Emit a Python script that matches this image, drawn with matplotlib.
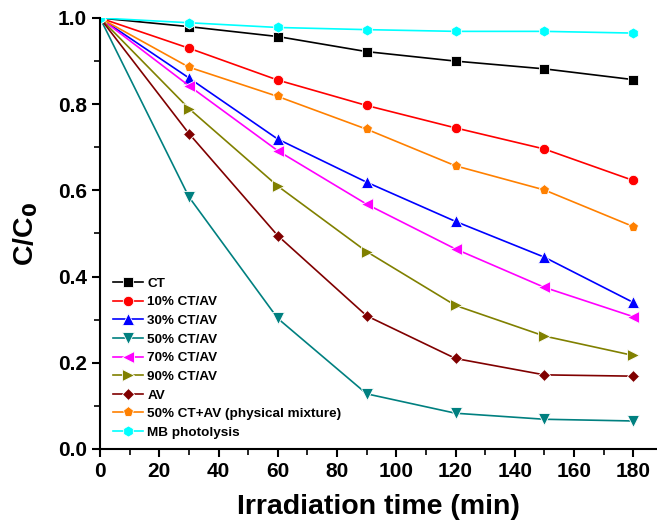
import matplotlib
matplotlib.use("Agg")
import matplotlib.pyplot as plt
from matplotlib.ticker import MultipleLocator

plt.rcParams['font.family'] = ['Liberation Sans', 'DejaVu Sans']
plt.rcParams['font.weight'] = 'bold'

time = [0, 30, 60, 90, 120, 150, 180]
labels = ["CT", "10% CT/AV", "30% CT/AV", "50% CT/AV", "70% CT/AV",
          "90% CT/AV", "AV", "50% CT+AV (physical mixture)", "MB photolysis"]
ct = [1.0, 0.980, 0.957, 0.922, 0.900, 0.882, 0.857]
ct10 = [1.0, 0.930, 0.856, 0.797, 0.745, 0.696, 0.623]
ct30 = [1.0, 0.861, 0.719, 0.619, 0.528, 0.445, 0.340]
ct50 = [1.0, 0.585, 0.303, 0.128, 0.083, 0.069, 0.065]
ct70 = [1.0, 0.843, 0.692, 0.568, 0.464, 0.375, 0.307]
ct90 = [1.0, 0.790, 0.610, 0.458, 0.333, 0.262, 0.217]
av = [1.0, 0.732, 0.495, 0.309, 0.210, 0.172, 0.169]
phys = [1.0, 0.886, 0.818, 0.742, 0.657, 0.601, 0.516]
mb = [1.0, 0.989, 0.978, 0.973, 0.969, 0.969, 0.965]

series = [ct, ct10, ct30, ct50, ct70, ct90, av, phys, mb]
colors = ['#000000', '#FF0000', '#0000FF', '#008080', '#FF00FF',
          '#808000', '#800000', '#FF8000', '#00FFFF']
markers = ['s', 'o', '^', 'v', '<', '>', 'D', 'p', 'h']
msizes = [6.5, 7.5, 8, 8, 8, 8, 6.5, 8, 8]

fig = plt.figure(figsize=(6.57, 5.29), dpi=100)
ax = fig.add_axes([100/657, 1-449/529, 557/657, 431/529])

for y, c, m, ms, lab in zip(series, colors, markers, msizes, labels):
    ax.plot(time, y, color=c, marker=m, markersize=ms, linewidth=1.2,
            markeredgecolor='white', markeredgewidth=0.6, label=lab)

ax.set_xlim(0, 188)
ax.set_ylim(0, 1.0)
ax.xaxis.set_major_locator(MultipleLocator(20))
ax.xaxis.set_minor_locator(MultipleLocator(10))
ax.yaxis.set_major_locator(MultipleLocator(0.2))
ax.yaxis.set_minor_locator(MultipleLocator(0.1))
ax.yaxis.set_major_formatter(matplotlib.ticker.FormatStrFormatter('%.1f'))

for s in ['top', 'right']:
    ax.spines[s].set_visible(False)
for s in ['left', 'bottom']:
    ax.spines[s].set_linewidth(1.5)
ax.tick_params(which='major', direction='out', length=6, width=1.5,
               labelsize=15)
ax.tick_params(which='minor', direction='out', length=4, width=1.2)
for t in ax.get_xticklabels() + ax.get_yticklabels():
    t.set_fontweight('bold')

ax.set_xlabel('Irradiation time (min)', fontsize=20.5, fontweight='bold', labelpad=9)
ax.set_ylabel('C/C$_\\mathbf{0}$', fontsize=20.5, fontweight='bold', labelpad=13)

leg = ax.legend(loc='lower left', bbox_to_anchor=(0.009, 0.005), frameon=False,
                fontsize=9.7, handlelength=2.2, handletextpad=0.35,
                labelspacing=0.46, borderaxespad=0.2)
for t in leg.get_texts():
    t.set_fontweight('bold')

fig.savefig('out.png', dpi=100)
